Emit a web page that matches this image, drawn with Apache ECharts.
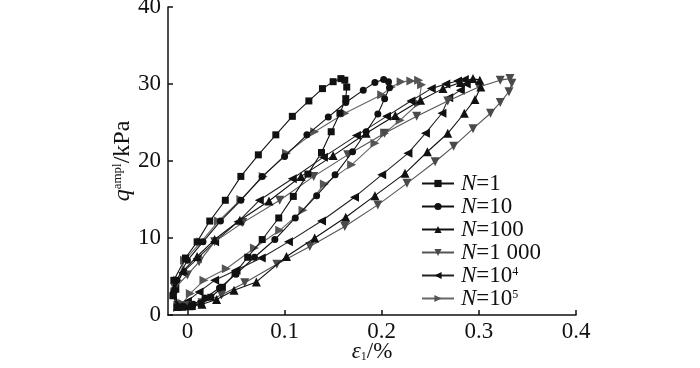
<!DOCTYPE html>
<html><head><meta charset="utf-8">
<script src="https://cdn.jsdelivr.net/npm/echarts@6/dist/echarts.min.js"></script>
<style>html,body{margin:0;padding:0;background:#fff}#c{width:700px;height:368px}</style>
</head><body><div id="c"></div>
<script>
// Tick values
const xTicks = [0, 0.1, 0.2, 0.3, 0.4];
const yTicks = [0, 10, 20, 30, 40];
const seriesNames = ['N=1', 'N=10', 'N=100', 'N=1 000', 'N=10^4', 'N=10^5'];

// N=1
const n1X = [-0.010,-0.015,-0.014,-0.002,0.010,0.023,0.039,0.055,0.073,0.091,0.108,0.125,0.139,0.150,0.158,0.162,0.164,0.163,0.157,0.148,0.138,0.124,0.109,0.094,0.077,0.062,0.049,0.036,0.024,0.014,0.005,-0.005,-0.010];
const n1Y = [1.0,2.5,4.5,7.4,9.5,12.2,14.9,18.0,20.8,23.4,25.8,27.8,29.4,30.3,30.7,30.5,29.6,28.1,26.2,23.8,21.1,18.3,15.4,12.6,9.8,7.5,5.4,3.6,2.3,1.5,1.1,1.0,1.0];
// N=10
const n10X = [-0.010,-0.014,-0.011,0.000,0.016,0.034,0.055,0.077,0.100,0.123,0.145,0.163,0.181,0.193,0.202,0.207,0.208,0.203,0.196,0.184,0.170,0.152,0.133,0.111,0.090,0.069,0.050,0.033,0.018,0.006,-0.004,-0.010];
const n10Y = [1.0,3.0,4.5,7.1,9.5,12.2,14.9,18.0,20.6,23.4,25.7,27.6,29.2,30.2,30.6,30.3,29.5,28.1,26.1,23.8,21.2,18.2,15.5,12.6,9.8,7.5,5.3,3.5,2.2,1.4,1.1,1.0];
// N=100
const n100X = [-0.010,-0.013,-0.004,0.010,0.028,0.054,0.084,0.117,0.150,0.184,0.214,0.240,0.263,0.281,0.294,0.301,0.302,0.296,0.285,0.268,0.247,0.224,0.193,0.163,0.131,0.102,0.071,0.048,0.030,0.015,0.002,-0.010];
const n100Y = [1.2,3.5,5.8,7.6,9.8,12.3,14.8,18.0,20.7,23.6,25.9,27.9,29.4,30.2,30.7,30.5,29.6,28.0,26.2,23.6,21.2,18.4,15.5,12.7,10.0,7.6,4.3,3.2,2.0,1.4,1.2,1.2];
// N=1 000
const n1000X = [-0.010,-0.013,0.000,0.012,0.028,0.057,0.095,0.130,0.165,0.203,0.236,0.268,0.300,0.322,0.332,0.334,0.331,0.322,0.312,0.294,0.274,0.255,0.226,0.196,0.162,0.126,0.092,0.059,0.035,0.015,0.000,-0.010];
const n1000Y = [1.2,3.5,5.2,6.9,9.5,12.0,14.9,18.0,20.8,23.6,25.8,27.8,29.6,30.5,30.7,30.1,29.0,27.6,26.2,24.2,21.9,19.9,17.1,14.3,11.5,8.9,6.6,4.2,2.6,1.6,1.2,1.2];
// N=10^4
const n1e4X = [-0.010,-0.013,-0.005,0.010,0.028,0.052,0.074,0.108,0.140,0.174,0.205,0.230,0.251,0.266,0.278,0.285,0.287,0.281,0.269,0.262,0.245,0.227,0.200,0.172,0.138,0.104,0.076,0.050,0.028,0.012,0.000,-0.010];
const n1e4Y = [1.2,3.5,5.5,7.3,9.5,12.1,14.9,17.7,20.5,23.3,25.8,27.8,29.4,30.0,30.4,30.6,30.0,29.2,28.2,26.2,23.6,21.0,18.2,15.3,12.2,9.5,7.4,5.8,4.5,3.0,1.8,1.2];
// N=10^5
const n1e5X = [-0.010,-0.013,-0.010,-0.003,0.014,0.032,0.055,0.078,0.102,0.131,0.162,0.200,0.210,0.220,0.230,0.238,0.241,0.238,0.219,0.203,0.193,0.169,0.141,0.119,0.095,0.069,0.040,0.017,0.003,-0.005,-0.010];
const n1e5Y = [1.0,3.0,4.5,7.1,9.5,12.2,15.0,18.0,21.0,23.8,26.2,28.6,29.6,30.3,30.4,30.5,29.9,27.5,25.3,23.6,22.3,19.5,17.0,13.6,11.0,8.7,6.0,4.5,2.8,1.5,1.0];

const FONT = "'Liberation Serif', 'Times New Roman', serif";
const pair = (xs, ys) => xs.map((x, i) => [x, ys[i]]);
const styles = [
  { symbol: 'rect', size: 7, rot: 0, color: '#111', line: '#111' },
  { symbol: 'circle', size: 7, rot: 0, color: '#111', line: '#111' },
  { symbol: 'triangle', size: 9, rot: 0, color: '#111', line: '#111' },
  { symbol: 'triangle', size: 9, rot: 180, color: '#4a4a4a', line: '#555' },
  { symbol: 'triangle', size: 9, rot: 90, color: '#111', line: '#222' },
  { symbol: 'triangle', size: 9, rot: -90, color: '#555', line: '#666' }
];
const datasets = [pair(n1X,n1Y), pair(n10X,n10Y), pair(n100X,n100Y), pair(n1000X,n1000Y), pair(n1e4X,n1e4Y), pair(n1e5X,n1e5Y)];

const series = seriesNames.map((name, i) => ({
  name, type: 'line', data: datasets[i],
  symbol: styles[i].symbol, symbolSize: styles[i].size, symbolRotate: styles[i].rot,
  showAllSymbol: true,
  itemStyle: { color: styles[i].color },
  lineStyle: { color: styles[i].line, width: 1.1 },
  z: 2 + (5 - i)
}));

function legendFmt(name) {
  if (name.indexOf('^') >= 0) {
    const p = name.split('^');
    return '{i|N}{n|' + p[0].slice(1) + '}{s|' + p[1] + '}';
  }
  return '{i|N}{n|' + name.slice(1) + '}';
}

const chart = echarts.init(document.getElementById('c'), null, { renderer: 'canvas' });
chart.setOption({
  animation: false,
  backgroundColor: '#fff',
  grid: { left: 168, right: 124, top: 7, bottom: 53, containLabel: false, outerBoundsMode: 'none' },
  xAxis: {
    type: 'value', min: -0.02, max: 0.4, interval: 0.02,
    axisLine: { show: true, onZero: false, lineStyle: { color: '#111', width: 1.5 } },
    axisTick: { show: true, inside: true, length: 5, customValues: xTicks, lineStyle: { color: '#111', width: 1.5 } },
    axisLabel: { customValues: xTicks, margin: 5, color: '#111', fontFamily: FONT, fontSize: 23,
      formatter: v => (Math.abs(v) < 1e-9 ? '0' : String(+v.toFixed(1))) },
    splitLine: { show: false },
    name: '{e|ε}{s|1}{n|/%}', nameLocation: 'middle', nameGap: 25, nameMoveOverlap: false,
    nameTextStyle: { rich: {
      e: { fontFamily: FONT, fontStyle: 'italic', fontSize: 23, color: '#111', lineHeight: 23 },
      s: { fontFamily: FONT, fontSize: 12, color: '#111', verticalAlign: 'bottom', lineHeight: 12 },
      n: { fontFamily: FONT, fontSize: 23, color: '#111', lineHeight: 23 }
    } }
  },
  yAxis: {
    type: 'value', min: 0, max: 40, interval: 10,
    axisLine: { show: true, onZero: false, lineStyle: { color: '#111', width: 1.5 } },
    axisTick: { show: true, inside: true, length: 5, lineStyle: { color: '#111', width: 1.5 } },
    axisLabel: { customValues: yTicks, margin: 7, color: '#111', fontFamily: FONT, fontSize: 23 },
    splitLine: { show: false },
    name: '{q|q}{s|ampl}{n|/kPa}', nameLocation: 'middle', nameGap: 33, nameRotate: 90, nameMoveOverlap: false,
    nameTextStyle: { rich: {
      q: { fontFamily: FONT, fontStyle: 'italic', fontSize: 24, color: '#111', lineHeight: 24 },
      s: { fontFamily: FONT, fontSize: 13, color: '#111', verticalAlign: 'top', lineHeight: 13 },
      n: { fontFamily: FONT, fontSize: 24, color: '#111', lineHeight: 24 }
    } }
  },
  legend: {
    orient: 'vertical', left: 421, top: 172, padding: 0, itemWidth: 32, itemHeight: 9, itemGap: 0,
    data: seriesNames,
    formatter: legendFmt,
    textStyle: { fontFamily: FONT, fontSize: 23, color: '#111', lineHeight: 20, padding: [0,0,0,2],
      rich: {
        i: { fontFamily: FONT, fontStyle: 'italic', fontSize: 23, color: '#111', lineHeight: 20 },
        n: { fontFamily: FONT, fontSize: 23, color: '#111', lineHeight: 20 },
        s: { fontFamily: FONT, fontSize: 12, color: '#111', verticalAlign: 'top', lineHeight: 12 }
      } }
  },
  series
});
</script></body></html>
